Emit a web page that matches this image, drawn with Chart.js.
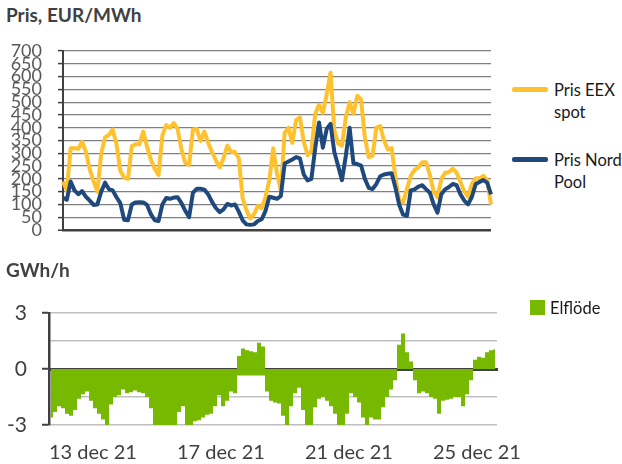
<!DOCTYPE html>
<html>
<head>
<meta charset="utf-8">
<script src="https://cdn.jsdelivr.net/npm/chart.js@4.4.1/dist/chart.umd.min.js"></script>
<style>
  body { margin: 0; width: 622px; height: 464px; background: #fff; font-family: Lato, sans-serif; position: relative; overflow: hidden; }
  .title { position: absolute; left: 6px; font-weight: bold; font-size: 19px; line-height: 23px; color: #404040; }
  #priceWrap { position: absolute; left: 0; top: 0; width: 500px; height: 245px; }
  #flowWrap { position: absolute; left: 0; top: 280px; width: 622px; height: 184px; }
  .legend { position: absolute; left: 554px; font-size: 16.5px; line-height: 22px; color: #1a1a1a; white-space: nowrap; }
  .swatch { position: absolute; left: 512px; width: 36px; height: 5px; border-radius: 2px; }
  .box { position: absolute; left: 530px; top: 300px; width: 15px; height: 15px; background: #77B800; }
</style>
</head>
<body>
<div class="title" style="top: 3px;">Pris, EUR/MWh</div>
<div id="priceWrap"><canvas id="priceCanvas"></canvas></div>
<div class="swatch" style="top: 87px; background: #FFC22E;"></div>
<div class="legend" style="top: 79px;">Pris EEX<br>spot</div>
<div class="swatch" style="top: 157px; background: #1F497D;"></div>
<div class="legend" style="top: 149px;">Pris Nord<br>Pool</div>

<div id="flowWrap"><canvas id="flowCanvas"></canvas></div>
<div class="title" style="top: 258px;">GWh/h</div>
<div class="box"></div>
<div class="legend" style="top: 297px; left: 550px;">Elflöde</div>

<script>
// 3-hourly prices, 13 dec 00:00 to 27 dec 00:00
const eexSpot = [190, 155, 320, 320, 318, 345, 305, 237, 190, 150,
  300, 362, 372, 393, 335, 232, 205, 200, 328, 335,
  335, 385, 325, 275, 240, 215, 370, 410, 400, 418,
  395, 315, 262, 255, 393, 395, 348, 385, 340, 305,
  272, 245, 280, 330, 305, 305, 280, 125, 78, 45,
  62, 95, 85, 130, 195, 320, 220, 155, 380, 400,
  341, 430, 440, 345, 292, 310, 455, 490, 458, 530,
  615, 390, 338, 330, 440, 500, 455, 525, 510, 360,
  285, 290, 400, 406, 350, 315, 320, 205, 115, 108,
  160, 212, 235, 245, 265, 265, 215, 150, 128, 200,
  224, 226, 240, 224, 188, 150, 130, 180, 202, 202,
  212, 195, 100];

const nordPool = [126, 118, 190, 155, 140, 152, 130, 115, 98, 100,
  150, 185, 160, 155, 128, 105, 40, 38, 100, 108,
  109, 108, 98, 62, 38, 35, 100, 125, 122, 127,
  128, 105, 75, 50, 146, 161, 161, 158, 139, 110,
  86, 70, 81, 102, 96, 100, 72, 38, 22, 20,
  22, 35, 42, 75, 130, 126, 122, 133, 260, 268,
  276, 285, 280, 217, 194, 200, 320, 420, 322, 395,
  415, 305, 250, 195, 289, 400, 261, 258, 252, 200,
  165, 160, 180, 210, 217, 220, 222, 165, 98, 60,
  55, 155, 159, 170, 175, 160, 146, 100, 68, 140,
  159, 168, 180, 175, 140, 115, 100, 130, 180, 188,
  195, 185, 139];

// 3-hourly net flow, GWh/h
const elflode = [-2.6, -2.3, -2.0, -2.1, -2.4, -2.5, -2.2, -1.6, -1.35, -1.2,
  -1.7, -2.1, -2.4, -2.7, -3.2, -1.9, -1.5, -1.4, -1.1, -1.3,
  -1.25, -1.15, -1.25, -1.3, -1.5, -2.1, -3.3, -3.5, -3.6, -3.6,
  -3.5, -3.3, -2.3, -2.0, -3.1, -3.1, -2.8, -2.75, -2.6, -2.45,
  -2.4, -2.0, -1.4, -2.0, -1.7, -1.2, -1.3, 0.7, 1.1, 1.0,
  0.95, 0.9, 1.4, 1.2, -1.2, -1.7, -1.8, -1.85, -2.5, -3.2,
  -2.0, -1.3, -1.0, -2.2, -3.3, -3.4, -2.05, -1.6, -1.5, -1.7,
  -2.0, -2.4, -3.3, -3.3, -2.4, -1.3, -1.5, -1.8, -2.6, -3.1,
  -2.6, -2.7, -2.7, -2.05, -1.5, -1.1, -0.6, 1.3, 1.9, 0.9,
  0.4, -0.6, -1.3, -1.2, -1.3, -1.5, -1.6, -2.4, -1.7, -1.65,
  -1.6, -1.5, -1.5, -2.0, -1.35, -0.6, 0.5, 0.65, 0.6, 0.9,
  1.0, 1.05];

// export share below zero while the net flow is positive
const elflodeUnder = [0, 0, 0, 0, 0, 0, 0, 0, 0, 0,
  0, 0, 0, 0, 0, 0, 0, 0, 0, 0,
  0, 0, 0, 0, 0, 0, 0, 0, 0, 0,
  0, 0, 0, 0, 0, 0, 0, 0, 0, 0,
  0, 0, 0, 0, 0, 0, 0, -0.35, -0.35, -0.35,
  -0.35, -0.35, -0.35, -0.35, 0, 0, 0, 0, 0, 0,
  0, 0, 0, 0, 0, 0, 0, 0, 0, 0,
  0, 0, 0, 0, 0, 0, 0, 0, 0, 0,
  0, 0, 0, 0, 0, 0, 0, 0, 0, 0,
  0, 0, 0, 0, 0, 0, 0, 0, 0, 0,
  0, 0, 0, 0, 0, 0, 0, 0, 0, 0,
  0, 0];

const dayTicks = ['13 dec 21', '17 dec 21', '21 dec 21', '25 dec 21'];

const dark = '#404040';

new Chart(document.querySelector('#priceCanvas'), {
  type: 'line',
  data: {
    labels: eexSpot.map((_, i) => i * 3),
    datasets: [
      {
        label: 'Pris EEX spot',
        data: eexSpot,
        borderColor: '#FFC22E',
        borderWidth: 4,
        borderJoinStyle: 'round',
        pointRadius: 0,
        order: 1
      },
      {
        label: 'Pris Nord Pool',
        data: nordPool,
        borderColor: '#1F497D',
        borderWidth: 4,
        borderJoinStyle: 'round',
        pointRadius: 0,
        order: 0
      }
    ]
  },
  options: {
    responsive: true,
    maintainAspectRatio: false,
    animation: false,
    layout: { padding: { top: 51, right: 9, bottom: 15, left: 0 } },
    plugins: {
      legend: { display: false },
      tooltip: { enabled: false }
    },
    scales: {
      x: { display: false },
      y: {
        min: 0,
        max: 700,
        afterFit: (scale) => {
          scale.width = 63;
          scale.paddingTop = 0;
          scale.paddingBottom = 0;
        },
        ticks: {
          stepSize: 50,
          autoSkip: false,
          padding: 16,
          color: '#595959',
          font: { family: 'Lato', size: 18 }
        },
        grid: {
          color: (ctx) => ctx.tick.value === 0 ? dark : '#808080',
          lineWidth: (ctx) => ctx.tick.value === 0 ? 2.5 : 1.2,
          tickLength: 5,
          tickColor: dark,
          tickWidth: 1.5
        },
        border: { color: dark, width: 2 }
      }
    }
  }
});

const flowArea = (values) => values.map((v, i) => ({ x: i * 3 + 1.5, y: v }));

new Chart(document.querySelector('#flowCanvas'), {
  type: 'line',
  data: {
    datasets: [
      {
        label: 'Elflöde',
        data: flowArea(elflode),
        stepped: 'middle',
        fill: 'origin',
        backgroundColor: '#77B800',
        borderWidth: 0,
        pointRadius: 0
      },
      {
        label: '',
        data: flowArea(elflodeUnder),
        stepped: 'middle',
        fill: 'origin',
        backgroundColor: '#77B800',
        borderWidth: 0,
        pointRadius: 0
      }
    ]
  },
  options: {
    responsive: true,
    maintainAspectRatio: false,
    animation: false,
    layout: { padding: { top: 33, right: 125, bottom: 0, left: 0 } },
    plugins: {
      legend: { display: false },
      tooltip: { enabled: false }
    },
    scales: {
      x: {
        type: 'linear',
        min: 0,
        max: 336,
        afterFit: (scale) => { scale.height = 39; },
        ticks: {
          stepSize: 96,
          align: 'start',
          maxRotation: 0,
          autoSkip: false,
          padding: 16,
          color: dark,
          font: { family: 'Lato', size: 20 },
          callback: (v) => dayTicks[v / 96] ?? ''
        },
        grid: { display: false, drawTicks: false },
        border: { display: false }
      },
      xt: {
        type: 'linear',
        position: { y: 0 },
        min: 0,
        max: 336,
        z: 1,
        ticks: { stepSize: 96, display: false },
        grid: {
          drawOnChartArea: false,
          tickLength: 7,
          tickWidth: 2.5,
          tickColor: (ctx) => (ctx.tick.value > 0 && ctx.tick.value < 336) ? dark : 'rgba(0,0,0,0)'
        },
        border: { color: dark, width: 3 }
      },
      y: {
        min: -3,
        max: 3,
        afterFit: (scale) => { scale.width = 49; },
        ticks: {
          stepSize: 1.5,
          autoSkip: false,
          padding: 15,
          color: dark,
          font: { family: 'Lato', size: 21 },
          callback: (v) => (v % 3 === 0 ? v : '')
        },
        grid: {
          color: (ctx) => ctx.tick.value === 0 ? dark : '#C0C0C0',
          lineWidth: 1.5,
          tickLength: 7,
          tickWidth: 2,
          tickColor: (ctx) => ctx.tick.value % 3 === 0 ? dark : 'rgba(0,0,0,0)'
        },
        border: { color: dark, width: 2.5 }
      }
    }
  }
});
</script>
</body>
</html>
